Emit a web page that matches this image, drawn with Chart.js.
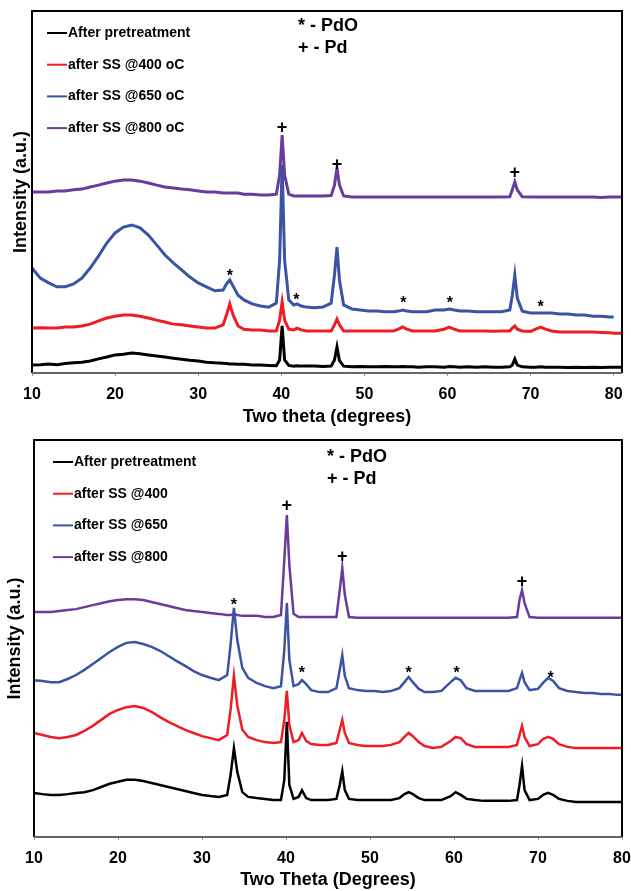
<!DOCTYPE html>
<html>
<head>
<meta charset="utf-8">
<script src="https://cdn.jsdelivr.net/npm/chart.js@4.4.1/dist/chart.umd.min.js"></script>
<style>
body { margin: 0; background: #fff; width: 631px; height: 891px; position: relative; overflow: hidden; }
canvas { position: absolute; left: 0; }
#xrdTop { top: 0; }
#xrdBottom { top: 430px; }
</style>
</head>
<body>
<canvas id="xrdTop" width="631" height="430"></canvas>
<canvas id="xrdBottom" width="631" height="461"></canvas>
<script>
// 2-theta grid shared by every trace (degrees)
var twoTheta = [10, 11, 12, 13, 14, 15, 16, 17, 18, 19, 20, 21, 22, 23, 24, 25, 26, 27, 28, 29, 30, 31, 32, 33,
  33.4, 33.8, 34.2, 34.8, 35.5, 36.5, 37.5, 38.5,
  39.4, 39.8, 40.1, 40.4, 40.9, 41.5, 41.9, 42.4, 43, 44, 45, 46,
  46.4, 46.7, 47.0, 47.5, 48.5, 49.5, 50.5, 51.5, 52.5, 53.5,
  54.1, 54.6, 55.1, 55.8, 56.5, 57.5, 58.5,
  59.6, 60.2, 60.8, 61.5, 62.5, 63.5, 64.5, 65.5, 66.5, 67.5,
  67.8, 68.1, 68.4, 69, 70, 70.6, 71.2, 71.8, 72.5, 73.5,
  74.5, 75.5, 76.5, 77.5, 78.5, 79.5, 80, 81];

var labelsTop = ['After pretreatment', 'after SS @400 oC', 'after SS @650 oC', 'after SS @800 oC'];
var labelsBottom = ['After pretreatment', 'after SS @400', 'after SS @650', 'after SS @800'];
var seriesColors = ['#000000', '#ee1c25', '#3b53a4', '#6a3a9c'];
var keyText = ['* - PdO', '+ - Pd'];

// top panel intensities (a.u., offset stacked)
var topPretreat = [2.2, 2.3, 2.5, 2.3, 2.6, 2.8, 3.0, 3.3, 3.9, 4.4, 5.0, 5.2, 5.5, 5.3, 5.0, 4.7, 4.4, 4.1, 3.8, 3.5, 3.3, 3.0, 2.8, 2.7,
  2.6, 2.5, 2.5, 2.4, 2.4, 2.2, 2.2, 2.1,
  2.0, 3.6, 13.0, 3.6, 2.1, 1.9, 2.0, 1.9, 1.9, 1.9, 1.8, 1.9,
  3.6, 7.2, 3.4, 1.9, 1.7, 1.8, 1.7, 1.7, 1.8, 1.7,
  1.7, 1.8, 1.7, 1.7, 1.6, 1.7, 1.7,
  1.6, 1.8, 1.7, 1.6, 1.7, 1.6, 1.7, 1.6, 1.6, 1.7,
  2.2, 3.9, 2.2, 1.7, 1.6, 1.6, 1.7, 1.6, 1.6, 1.6,
  1.5, 1.6, 1.5, 1.6, 1.5, 1.6, 1.6, 1.6];
var topSS400 = [12.4, 12.5, 12.4, 12.4, 12.7, 12.7, 13.0, 13.5, 14.4, 15.2, 15.7, 16.0, 16.0, 15.7, 15.2, 14.6, 14.1, 13.5, 13.3, 13.0, 12.7, 12.4, 12.4, 13.3,
  16.0, 19.1, 16.0, 13.0, 12.1, 11.9, 11.9, 11.6,
  11.6, 14.6, 19.6, 14.6, 12.1, 11.9, 12.4, 11.9, 11.6, 11.6, 11.6, 11.6,
  13.3, 14.9, 13.3, 11.6, 11.6, 11.6, 11.6, 11.6, 11.6, 11.6,
  12.1, 12.7, 12.1, 11.6, 11.6, 11.6, 11.6,
  12.1, 12.7, 12.1, 11.6, 11.6, 11.6, 11.6, 11.5, 11.6, 11.6,
  12.4, 13.0, 12.1, 11.6, 11.5, 12.1, 12.7, 12.1, 11.6, 11.3,
  11.3, 11.3, 11.3, 11.3, 11.2, 11.1, 11.0, 11.0];
var topSS650 = [29.0, 26.2, 24.9, 23.8, 23.8, 24.6, 26.2, 29.0, 32.3, 35.9, 38.7, 40.3, 40.9, 40.1, 38.1, 35.4, 32.6, 30.4, 28.5, 26.5, 24.9, 23.8, 22.7, 22.9,
  24.6, 25.7, 24.0, 21.5, 20.2, 19.1, 18.5, 18.2,
  19.3, 31.2, 57.5, 31.2, 20.2, 18.8, 19.1, 18.5, 18.2, 18.0, 18.2, 19.3,
  27.1, 34.8, 25.7, 18.8, 17.7, 17.4, 17.1, 17.1, 16.9, 16.9,
  17.1, 17.4, 17.1, 16.9, 16.9, 16.9, 17.4,
  17.4, 17.7, 17.4, 17.1, 17.1, 16.9, 16.9, 16.9, 16.9, 17.4,
  21.5, 27.1, 20.7, 17.1, 16.6, 16.6, 16.6, 16.6, 16.6, 16.3,
  16.3, 16.0, 16.0, 15.7, 15.7, 15.5, 15.5, null];
var topSS800 = [50.0, 50.0, 50.0, 50.3, 50.3, 50.6, 50.8, 51.4, 51.9, 52.5, 53.0, 53.3, 53.3, 53.0, 52.5, 51.9, 51.4, 51.1, 50.8, 50.6, 50.3, 50.0, 50.0, 49.7,
  49.7, 49.7, 49.7, 49.7, 49.4, 49.4, 49.2, 49.2,
  49.4, 54.7, 65.7, 54.7, 49.4, 48.9, 48.9, 48.9, 48.9, 48.9, 48.9, 49.0,
  51.9, 56.6, 51.9, 48.9, 48.6, 48.6, 48.6, 48.6, 48.6, 48.6,
  48.6, 48.6, 48.6, 48.6, 48.6, 48.6, 48.6,
  48.6, 48.6, 48.6, 48.6, 48.6, 48.6, 48.6, 48.6, 48.6, 48.7,
  50.6, 52.8, 50.6, 48.7, 48.6, 48.6, 48.6, 48.6, 48.6, 48.6,
  48.6, 48.6, 48.6, 48.6, 48.5, 48.6, 48.6, 48.6];

// bottom panel intensities (a.u., offset stacked)
var botPretreat = [11.1, 10.8, 10.6, 10.6, 10.8, 11.1, 11.3, 11.8, 12.6, 13.4, 13.9, 14.4, 14.4, 14.1, 13.6, 13.1, 12.6, 12.1, 11.6, 11.1, 10.6, 10.3, 10.1, 10.6,
  15.6, 22.4, 16.4, 11.3, 10.1, 9.8, 9.6, 9.3,
  9.3, 14.4, 29.0, 13.1, 9.6, 10.1, 11.8, 9.8, 9.3, 9.3, 9.3, 9.6,
  13.1, 16.6, 11.8, 9.6, 9.3, 9.3, 9.3, 9.3, 9.3, 9.8,
  10.8, 11.3, 10.8, 9.8, 9.3, 9.3, 9.3,
  10.3, 11.3, 10.6, 9.6, 9.3, 9.1, 9.1, 9.1, 9.1, 9.3,
  13.1, 17.9, 11.8, 9.3, 9.6, 10.6, 11.1, 10.6, 9.6, 9.1,
  8.8, 8.8, 8.8, 8.8, 8.8, 8.8, 8.8, 8.8];
var botSS400 = [26.2, 25.7, 25.2, 24.9, 25.2, 25.7, 26.7, 28.0, 29.5, 31.0, 32.0, 32.7, 33.0, 32.5, 31.5, 30.2, 29.0, 28.0, 27.0, 26.2, 25.4, 24.9, 24.4, 25.7,
  32.0, 40.6, 33.2, 27.0, 25.2, 24.4, 23.9, 23.7,
  23.9, 29.5, 36.8, 28.2, 23.9, 24.4, 26.2, 24.2, 23.4, 23.2, 23.2, 23.7,
  27.0, 29.5, 26.2, 23.7, 23.2, 22.9, 22.9, 22.9, 23.2, 23.9,
  25.2, 26.2, 25.4, 23.9, 22.9, 22.4, 22.7,
  24.2, 25.2, 24.9, 23.4, 22.7, 22.7, 22.7, 22.7, 22.7, 23.2,
  25.7, 28.0, 25.2, 22.9, 23.4, 24.7, 25.2, 24.7, 23.4, 22.7,
  22.4, 22.4, 22.4, 22.4, 22.4, 22.4, 22.4, 22.4];
var botSS650 = [39.5, 39.3, 39.0, 39.0, 39.8, 40.8, 42.1, 43.6, 45.1, 46.6, 47.9, 48.9, 49.1, 48.6, 47.9, 46.9, 45.6, 44.3, 43.1, 41.8, 40.8, 40.1, 39.5, 40.8,
  48.4, 57.7, 49.6, 42.6, 40.1, 38.8, 38.0, 37.5,
  38.0, 47.1, 58.9, 44.6, 38.0, 38.5, 39.5, 38.5, 37.0, 36.5, 36.5, 37.5,
  42.1, 45.8, 40.6, 37.5, 37.0, 36.8, 36.8, 36.5, 36.8, 37.5,
  39.0, 40.3, 39.0, 37.3, 36.5, 36.5, 36.8,
  39.0, 40.1, 39.5, 37.5, 36.8, 36.8, 36.8, 36.8, 36.8, 37.5,
  39.5, 41.3, 39.0, 37.0, 37.3, 38.8, 40.1, 39.3, 37.5, 36.8,
  36.5, 36.3, 36.3, 36.0, 36.0, 35.8, 35.8, 35.8];
var botSS800 = [56.7, 56.7, 56.7, 56.9, 57.2, 57.4, 57.9, 58.4, 58.9, 59.4, 59.7, 59.9, 59.9, 59.7, 59.2, 58.7, 58.2, 57.7, 57.2, 56.9, 56.7, 56.4, 56.2, 55.9,
  55.9, 56.2, 55.9, 55.7, 55.7, 55.7, 55.4, 55.4,
  55.9, 69.8, 81.1, 68.5, 56.2, 55.4, 55.4, 55.4, 55.4, 55.4, 55.4, 55.4,
  62.2, 67.8, 61.0, 55.4, 55.2, 55.2, 55.2, 55.2, 55.2, 55.2,
  55.2, 55.2, 55.2, 55.2, 55.2, 55.2, 55.2,
  55.2, 55.2, 55.2, 55.2, 55.2, 55.2, 55.2, 55.2, 55.2, 55.4,
  59.7, 62.2, 58.9, 55.4, 55.2, 55.2, 55.2, 55.2, 55.2, 55.2,
  55.2, 55.2, 55.2, 55.2, 55.2, 55.2, 55.2, 55.2];

// peak markers [2theta, intensity]
var topPdMarks = [[40.1, 67.7], [46.7, 57.5], [68.1, 55.2]];
var topPdOMarks = [[33.8, 27.6], [41.8, 21.0], [54.7, 20.2], [60.3, 20.2], [71.2, 19.1]];
var botPdMarks = [[40.1, 83.4], [46.7, 70.5], [68.1, 64.2]];
var botPdOMarks = [[33.8, 59.4], [41.9, 42.1], [54.6, 42.1], [60.3, 42.1], [71.5, 40.8]];

var FONT = '"Liberation Sans", Arial, sans-serif';

function pts(ys) {
  return twoTheta.map(function (x, i) { return { x: x, y: ys[i] }; });
}

var panelPlugin = {
  id: 'panel',
  afterDatasetsDraw: function (chart, args, o) {
    var ctx = chart.ctx, a = chart.chartArea;
    var xs = chart.scales.x, ys = chart.scales.y;
    ctx.save();
    ctx.fillStyle = '#000';
    ctx.textAlign = 'center';
    ctx.textBaseline = 'middle';
    ctx.font = 'bold 18px ' + FONT;
    o.plus.forEach(function (p) {
      ctx.fillText('+', xs.getPixelForValue(p[0]), ys.getPixelForValue(p[1]));
    });
    ctx.font = 'bold 16px ' + FONT;
    o.star.forEach(function (p) {
      ctx.fillText('*', xs.getPixelForValue(p[0]), ys.getPixelForValue(p[1]) + 4);
    });

    // legend with short line samples
    ctx.textAlign = 'left';
    ctx.font = 'bold 14px ' + FONT;
    chart.data.datasets.forEach(function (ds, i) {
      var y = a.top + o.legTop + i * o.legGap;
      var x0 = a.left + o.legX;
      ctx.strokeStyle = ds.borderColor;
      ctx.lineWidth = 2;
      ctx.beginPath();
      ctx.moveTo(x0, y);
      ctx.lineTo(x0 + 20, y);
      ctx.stroke();
      ctx.fillText(ds.label, x0 + 21, y);
    });

    ctx.font = 'bold 18px ' + FONT;
    keyText.forEach(function (t, i) {
      ctx.fillText(t, o.keyX, a.top + o.keyTop + i * 22);
    });

    // frame: dark box, greyish bottom axis like the original
    ctx.lineWidth = 2;
    ctx.strokeStyle = '#000';
    ctx.beginPath();
    ctx.moveTo(a.left, a.bottom);
    ctx.lineTo(a.left, a.top);
    ctx.lineTo(a.right, a.top);
    ctx.lineTo(a.right, a.bottom);
    ctx.stroke();
    ctx.strokeStyle = '#666';
    ctx.beginPath();
    ctx.moveTo(a.left, a.bottom);
    ctx.lineTo(a.right, a.bottom);
    ctx.stroke();
    ctx.restore();
  }
};

function makePanel(id, labels, series, cfg) {
  var datasets = series.map(function (s, i) {
    return {
      label: labels[i],
      data: pts(s),
      borderColor: seriesColors[i],
      borderWidth: cfg.lineWidth,
      pointRadius: 0,
      tension: 0,
      fill: false
    };
  });
  return new Chart(document.getElementById(id), {
    type: 'line',
    data: { datasets: datasets },
    plugins: [panelPlugin],
    options: {
      responsive: false,
      animation: false,
      layout: { padding: { left: cfg.padLeft, right: 9, top: cfg.padTop, bottom: 0 } },
      plugins: {
        legend: { display: false },
        tooltip: { enabled: false },
        panel: cfg.marks
      },
      scales: {
        x: {
          type: 'linear',
          min: 10,
          max: cfg.xMax,
          afterFit: function (s) {
            s.height = cfg.xHeight;
            s.paddingLeft = 0;
            s.paddingRight = 0;
          },
          ticks: { stepSize: 10, includeBounds: false, color: '#000', padding: 9, font: { family: FONT, size: 16, weight: 'bold' } },
          grid: { display: true, drawOnChartArea: false, tickLength: 3, color: '#999' },
          border: { display: false },
          title: { display: true, text: cfg.xTitle, color: '#000', padding: { top: 0, bottom: cfg.titlePad }, font: { family: FONT, size: 18, weight: 'bold' } }
        },
        y: {
          min: 0,
          max: 100,
          afterFit: function (s) { s.width = cfg.yWidth; },
          ticks: { display: false },
          grid: { display: false },
          border: { display: false },
          title: { display: true, text: 'Intensity (a.u.)', color: '#000', padding: 0, font: { family: FONT, size: 18, weight: 'bold' } }
        }
      }
    }
  });
}

makePanel('xrdTop', labelsTop, [topPretreat, topSS400, topSS650, topSS800], {
  lineWidth: 3, padLeft: 10, padTop: 11, yWidth: 22, xHeight: 57, xMax: 81, titlePad: 2,
  xTitle: 'Two theta (degrees)',
  marks: { plus: topPdMarks, star: topPdOMarks, legX: 15, legTop: 22, legGap: 31.7, keyX: 298, keyTop: 15 }
});

makePanel('xrdBottom', labelsBottom, [botPretreat, botSS400, botSS650, botSS800], {
  lineWidth: 2.5, padLeft: 4, padTop: 10, yWidth: 30, xHeight: 54, xMax: 80, titlePad: 0,
  xTitle: 'Two Theta (Degrees)',
  marks: { plus: botPdMarks, star: botPdOMarks, legX: 19, legTop: 22, legGap: 31.7, keyX: 327, keyTop: 17 }
});
</script>
</body>
</html>
